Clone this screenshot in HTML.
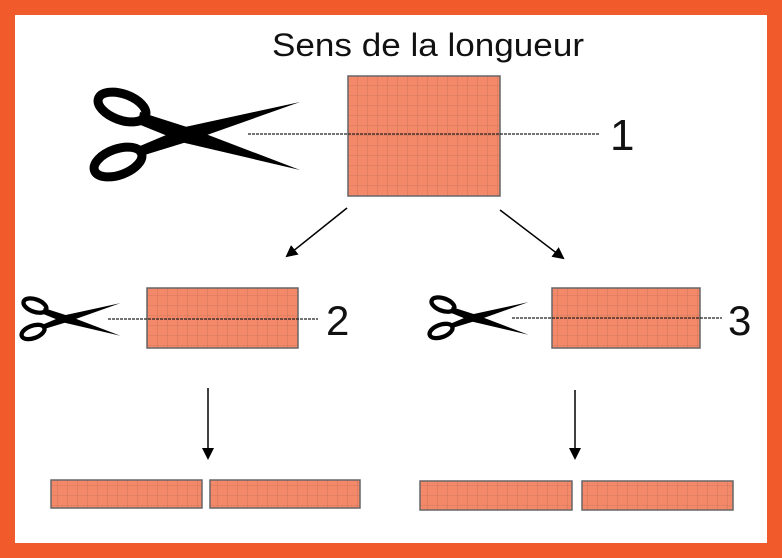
<!DOCTYPE html>
<html><head><style>html,body{margin:0;padding:0;background:#fff}svg{display:block}</style></head>
<body>
<svg width="782" height="558" viewBox="0 0 782 558" xmlns="http://www.w3.org/2000/svg">
<defs>
<pattern id="g" x="348" y="76" width="10" height="10" patternUnits="userSpaceOnUse">
<rect width="10" height="10" fill="#F4896A"/>
<path d="M10 0V10M0 10H10" stroke="#c87058" stroke-width="0.8" fill="none"/>
</pattern>
<g id="sc">
<ellipse cx="122" cy="107" rx="25" ry="13" transform="rotate(20 122 107)" fill="none" stroke="#000" stroke-width="9"/>
<ellipse cx="118" cy="162" rx="25" ry="13" transform="rotate(-20 118 162)" fill="none" stroke="#000" stroke-width="9"/>
<polygon points="140,112 190,128 300,170 185,143 138,124" fill="#000"/>
<polygon points="138,157 190,141 300,102 185,127 140,146" fill="#000"/>
</g>
<marker id="ah" markerWidth="12" markerHeight="12" refX="10" refY="6" orient="auto" markerUnits="userSpaceOnUse"><path d="M0,0 L12,6 L0,12z" fill="#000"/></marker>
</defs>
<rect x="7.5" y="7.5" width="767" height="543" fill="#fff" stroke="#F15A2B" stroke-width="15"/>
<text x="272" y="56" font-family="Liberation Sans, sans-serif" font-size="32" textLength="312" lengthAdjust="spacingAndGlyphs" fill="#111">Sens de la longueur</text>

<use href="#sc"/>
<rect x="348" y="76" width="152" height="120" fill="url(#g)" stroke="#666" stroke-width="1.5"/>
<line x1="248" y1="134" x2="600" y2="134" stroke="#222" stroke-width="1.3" stroke-dasharray="3,1"/>
<text x="610" y="150" font-family="Liberation Sans, sans-serif" font-size="44" fill="#111">1</text>

<line x1="347" y1="208" x2="287" y2="256" stroke="#000" stroke-width="1.5" marker-end="url(#ah)"/>
<line x1="500" y1="210" x2="563" y2="258" stroke="#000" stroke-width="1.5" marker-end="url(#ah)"/>

<use href="#sc" transform="translate(22,295) scale(0.48) translate(-95,-85)"/>
<rect x="147" y="288" width="151" height="60" fill="url(#g)" stroke="#666" stroke-width="1.5"/>
<line x1="108" y1="319" x2="318" y2="319" stroke="#222" stroke-width="1.2" stroke-dasharray="3,1"/>
<text x="326" y="335" font-family="Liberation Sans, sans-serif" font-size="42" fill="#111">2</text>

<use href="#sc" transform="translate(430,294) scale(0.48) translate(-95,-85)"/>
<rect x="552" y="288" width="148" height="60" fill="url(#g)" stroke="#666" stroke-width="1.5"/>
<line x1="512" y1="318" x2="722" y2="318" stroke="#222" stroke-width="1.2" stroke-dasharray="3,1"/>
<text x="728" y="335" font-family="Liberation Sans, sans-serif" font-size="42" fill="#111">3</text>

<line x1="208" y1="388" x2="208" y2="458" stroke="#000" stroke-width="1.5" marker-end="url(#ah)"/>
<line x1="575" y1="390" x2="575" y2="458" stroke="#000" stroke-width="1.5" marker-end="url(#ah)"/>

<rect x="51" y="480" width="151" height="28" fill="url(#g)" stroke="#666" stroke-width="1.5"/>
<rect x="210" y="480" width="150" height="28" fill="url(#g)" stroke="#666" stroke-width="1.5"/>
<rect x="420" y="481" width="152" height="29" fill="url(#g)" stroke="#666" stroke-width="1.5"/>
<rect x="582" y="481" width="151" height="29" fill="url(#g)" stroke="#666" stroke-width="1.5"/>
</svg>
</body></html>
